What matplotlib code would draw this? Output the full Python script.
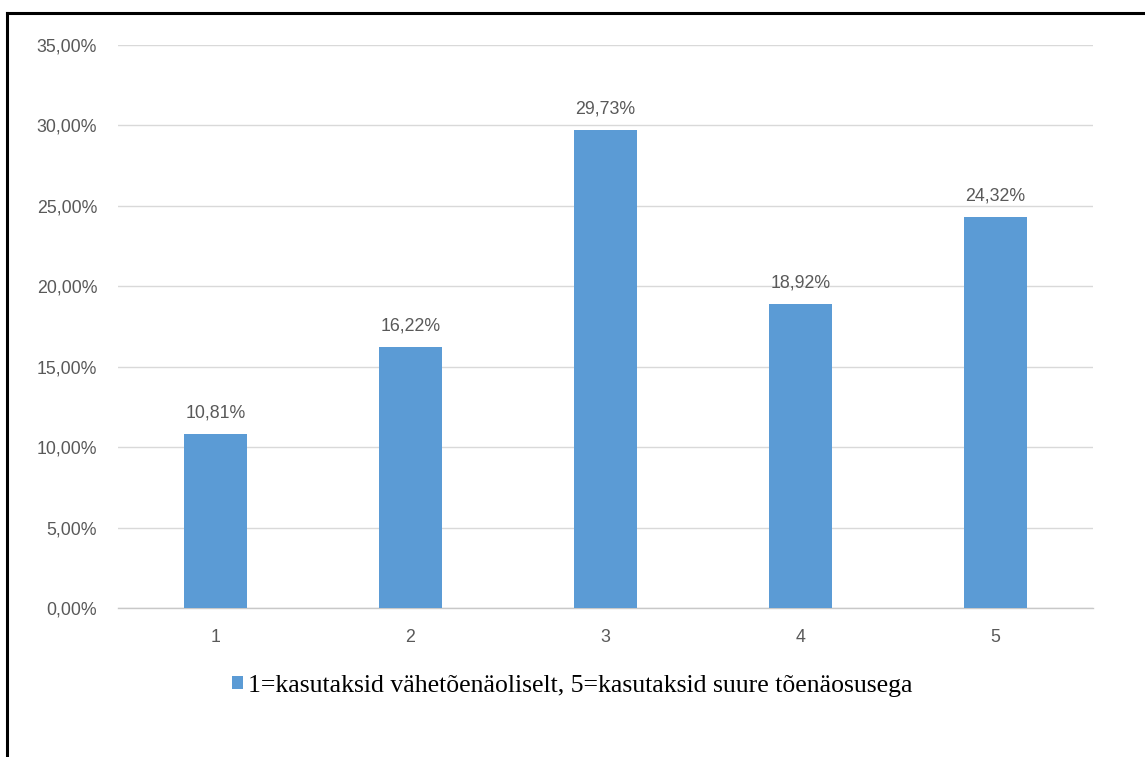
import matplotlib.pyplot as plt
from matplotlib.lines import Line2D
from matplotlib.patches import Patch

# Survey answers, scale 1..5
categories = ['1', '2', '3', '4', '5']
shares = [10.81, 16.22, 29.73, 18.92, 24.32]
y_ticks = [0, 5, 10, 15, 20, 25, 30, 35]
legend_label = '1=kasutaksid vähetõenäoliselt, 5=kasutaksid suure tõenäosusega'

bar_color = '#5B9BD5'
text_gray = '#595959'
fs = 12.8

fig = plt.figure(figsize=(11.45, 7.57), dpi=100)
ax = fig.add_axes([0.1031, 0.1968, 0.8515, 0.7438])

x = range(len(categories))
bars = ax.bar(x, shares, width=0.32, color=bar_color, zorder=3)

# value labels with comma decimals
for b, v in zip(bars, shares):
    ax.annotate(f'{v:.2f}%'.replace('.', ','),
                (b.get_x() + b.get_width() / 2, v),
                xytext=(0, 9), textcoords='offset points',
                ha='center', va='bottom', fontsize=fs, color=text_gray,
                family='Liberation Sans')

ax.set_xlim(-0.5, len(categories) - 0.5)
ax.set_ylim(0, 35)
ax.set_yticks(y_ticks)
ax.set_yticklabels([f'{t:.2f}%'.replace('.', ',') for t in y_ticks],
                   fontsize=fs, color=text_gray, family='Liberation Sans')
ax.set_xticks(list(x))
ax.set_xticklabels(categories, fontsize=fs, color=text_gray,
                   family='Liberation Sans')
ax.tick_params(axis='both', length=0)
ax.tick_params(axis='y', pad=15)
ax.tick_params(axis='x', pad=15)

ax.grid(axis='y', color='#d9d9d9', linewidth=1, zorder=0)
for s in ['top', 'right', 'left']:
    ax.spines[s].set_visible(False)
ax.spines['bottom'].set_color('#c8c8c8')
ax.spines['bottom'].set_linewidth(1)

handle = Patch(facecolor=bar_color, edgecolor='none')
fig.legend([handle], [legend_label], loc='center', bbox_to_anchor=(0.5, 1 - 686 / 757),
           frameon=False, prop={'family': 'Liberation Serif', 'size': 18.5},
           handlelength=0.42, handleheight=0.42, handletextpad=0.2)

# outer frame: top and left edges only
fig.add_artist(Line2D([6.5 / 1145, 1], [1 - 12.5 / 757] * 2, color='black',
                      linewidth=2.2, transform=fig.transFigure))
fig.add_artist(Line2D([6.5 / 1145] * 2, [0, 1 - 12.5 / 757], color='black',
                      linewidth=2.2, transform=fig.transFigure))

fig.savefig('out.png', dpi=100)
